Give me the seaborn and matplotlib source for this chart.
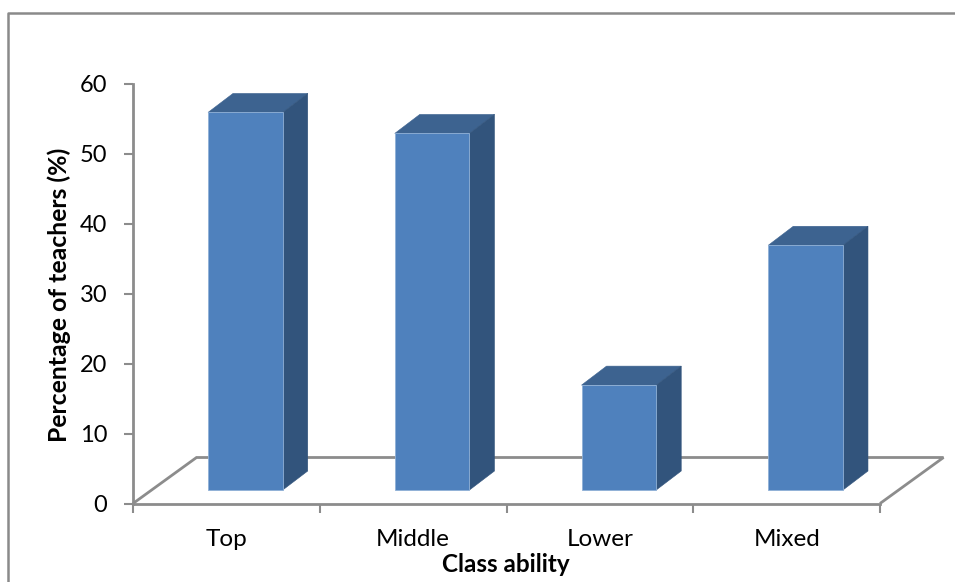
import matplotlib
matplotlib.use("Agg")
import matplotlib.pyplot as plt
from matplotlib.patches import Polygon, Rectangle
import seaborn as sns

classes = ["Top", "Middle", "Lower", "Mixed"]
teachers_pct = [54, 51, 15, 35]
y_ticks = [0, 10, 20, 30, 40, 50, 60]

FRONT = "#4f81bd"
TOP = "#3d6390"
SIDE = "#32547c"
EDGE = "#8fb0d6"
AXIS = "#8c8c8c"

W, H = 955, 582
sns.set_theme(style="white")
plt.rcParams["font.family"] = ["Lato", "DejaVu Sans"]

fig = plt.figure(figsize=(W / 100, H / 100), dpi=100)
ax = fig.add_axes([133 / W, 1 - 503.5 / H, 747 / W, 419.5 / H])

# Pixel-per-unit scale of the axes, used for the oblique projection
px_x = 747 / 4
px_y = 419.5 / 60
floor_dx, floor_dy = 63.5 / px_x, 46 / px_y    # depth of the floor
bar_dx, bar_dy = 25 / px_x, 19 / px_y          # depth of each bar
lift_x, lift_y = 19 / px_x, 13.5 / px_y        # bars stand partway into the floor

ax.set_xlim(-0.5, 3.5)
ax.set_ylim(0, 60)

# Floor outline behind the bars
x0, x1 = -0.5, 3.5
ax.add_patch(Polygon(
    [(x0, 0), (x0 + floor_dx, floor_dy), (x1 + floor_dx, floor_dy), (x1, 0)],
    closed=False, fill=False, edgecolor=AXIS, linewidth=2, clip_on=False, zorder=1,
))

sns.barplot(x=classes, y=teachers_pct, order=classes, color=FRONT, saturation=1,
            width=0.4, bottom=lift_y, linewidth=0, ax=ax, zorder=3)

# Extrude every bar into a box with a top and a side face
for bar in ax.patches:
    if not isinstance(bar, Rectangle):
        continue
    bar.set_x(bar.get_x() + lift_x)
    bar.set_edgecolor(EDGE)
    bar.set_linewidth(0.6)
    bar.set_zorder(4)
    l, r = bar.get_x(), bar.get_x() + bar.get_width()
    b, t = bar.get_y(), bar.get_y() + bar.get_height()
    ax.add_patch(Polygon([(l, t), (l + bar_dx, t + bar_dy), (r + bar_dx, t + bar_dy), (r, t)],
                         facecolor=TOP, edgecolor=TOP, linewidth=0.4, zorder=3, clip_on=False))
    ax.add_patch(Polygon([(r, t), (r + bar_dx, t + bar_dy), (r + bar_dx, b + bar_dy), (r, b)],
                         facecolor=SIDE, edgecolor=SIDE, linewidth=0.4, zorder=3, clip_on=False))

# Axes: spines and ticks sit on the category boundaries
for side in ("top", "right"):
    ax.spines[side].set_visible(False)
for side in ("left", "bottom"):
    ax.spines[side].set_color(AXIS)
    ax.spines[side].set_linewidth(2)

ax.set_yticks(y_ticks)
ax.tick_params(axis="y", length=6.5, width=1.5, color=AXIS, labelsize=17,
               labelcolor="black", pad=12, left=True)
ax.set_xticks([-0.5, 0.5, 1.5, 2.5, 3.5])
ax.set_xticklabels([])
ax.tick_params(axis="x", length=6.5, width=1.5, color=AXIS, bottom=True)
for i, name in enumerate(classes):
    ax.annotate(name, (i, 0), xytext=(0, -35.5 * 0.72), textcoords="offset points",
                ha="center", va="center", fontsize=17.5, color="black", annotation_clip=False)

fig.text(505.5 / W, 1 - 564 / H, "Class ability", ha="center", va="center",
         fontsize=17.5, fontweight="bold", color="black")
fig.text(59.5 / W, 1 - 295 / H, "Percentage of teachers (%)", ha="center", va="center",
         rotation=90, fontsize=17.8, fontweight="bold", color="black")

# Chart frame: left and top edges only, the rest falls off the canvas
fig.add_artist(plt.Line2D([7.5 / W, 7.5 / W, 1],
                          [0, 1 - 12.5 / H, 1 - 12.5 / H],
                          color="#8a8a8a", linewidth=1.8))

fig.savefig("out.png", dpi=100)
